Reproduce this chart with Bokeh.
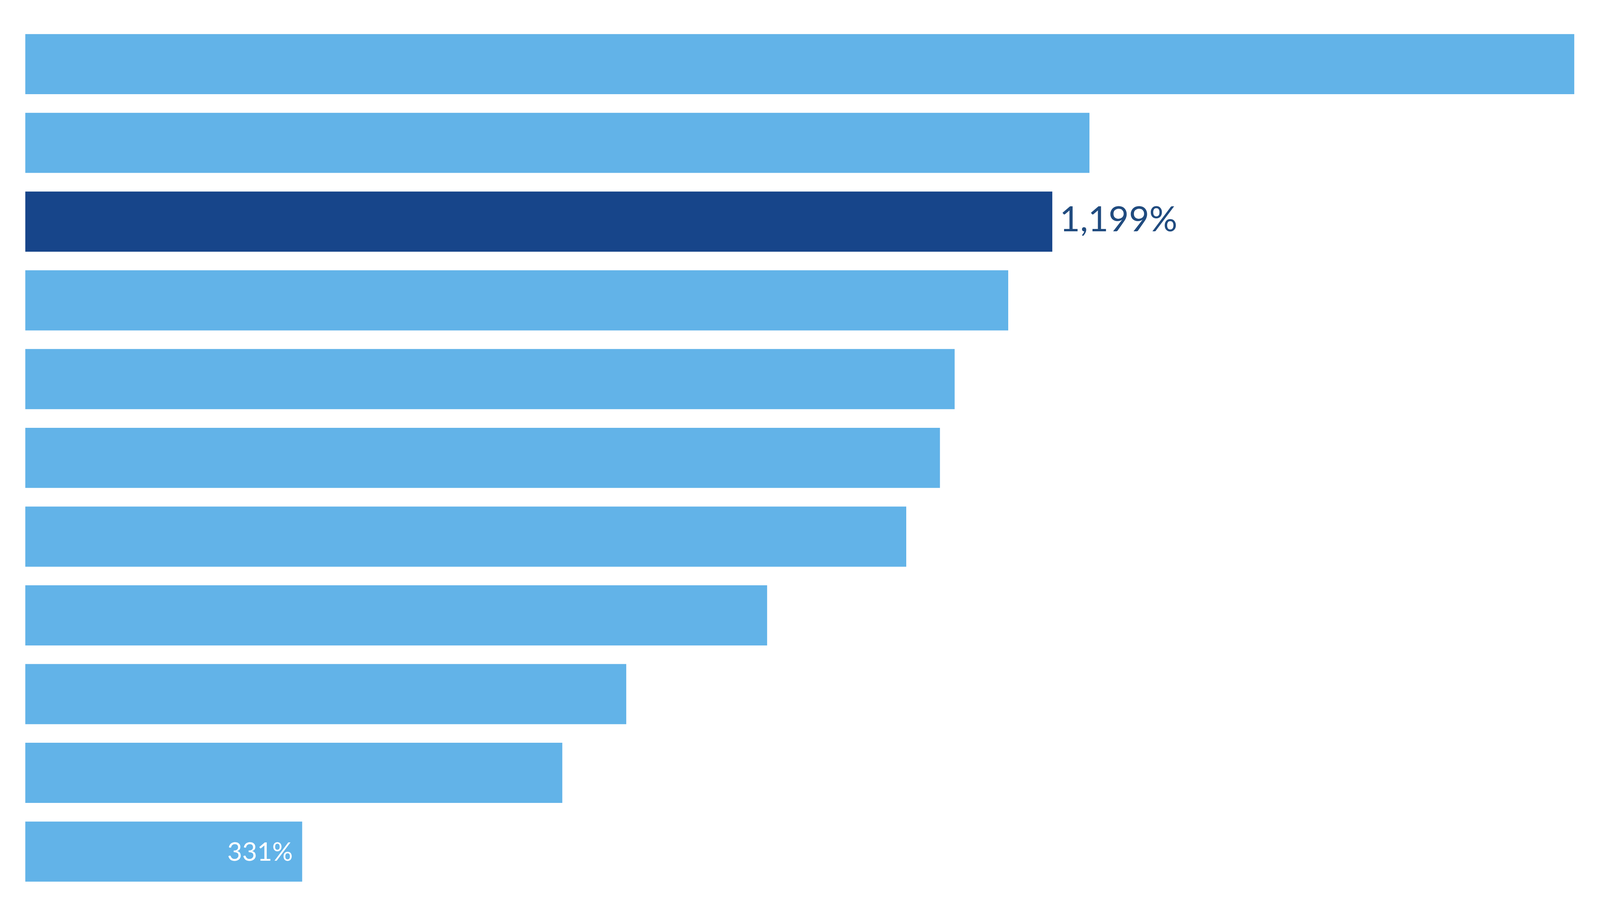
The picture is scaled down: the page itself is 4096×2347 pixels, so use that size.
from bokeh.plotting import figure
from bokeh.models import Range1d, ColumnDataSource
from bokeh.embed import file_html
from bokeh.resources import INLINE
from bokeh.core.properties import value

# data (percent), top to bottom
values = [1803, 1242, 1199, 1148, 1086, 1069, 1030, 869, 706, 632, 331]
ranks = list(range(len(values)))
highlight = 2          # dark bar with outside label
inside_label = 10      # bar with white label inside

light = "#62B3E8"
dark = "#17458A"
colors = [dark if i == highlight else light for i in ranks]

BASE = 10.49
p = figure(width=4094, height=2346, output_backend="svg", toolbar_location=None,
           x_range=Range1d(BASE, 1832.1), y_range=Range1d(10.828, -0.8117),
           x_axis_location=None, y_axis_location=None,
           min_border_left=64, min_border_right=0, min_border_top=0, min_border_bottom=0)
p.grid.visible = False
p.outline_line_color = None
p.background_fill_color = "white"
p.border_fill_color = "white"

src = ColumnDataSource(dict(y=ranks, right=values, color=colors))
p.hbar(y="y", left=BASE, right="right", height=0.7638, fill_color="color",
       line_color=None, source=src)

p.text(x=[values[highlight]], y=[ranks[highlight]], text=[f"{values[highlight]:,}%"],
       text_align="left", text_baseline="alphabetic", x_offset=19, y_offset=-10,
       text_font=value("Lato"), text_font_size="90px", text_color="#204B7F")

p.text(x=[values[inside_label]], y=[ranks[inside_label]], text=[f"{values[inside_label]:,}%"],
       text_align="right", text_baseline="alphabetic", x_offset=-24, y_offset=-2.5,
       text_font=value("Lato"), text_font_size="66px", text_color="white")

open("out.html", "w").write(file_html(p, INLINE))
